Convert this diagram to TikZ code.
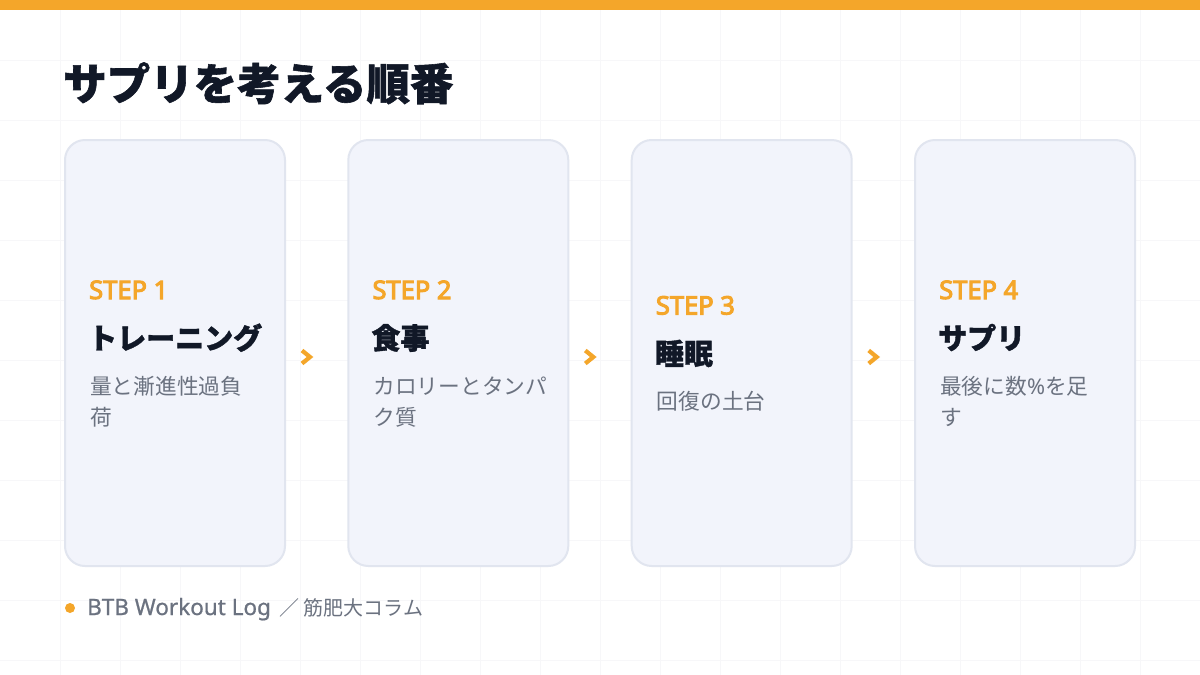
\documentclass[tikz,border=0pt]{standalone}
\usepackage{fontspec}
\setmainfont{Noto Sans CJK JP}
\newfontfamily\heavy{Noto Sans CJK JP}[BoldFeatures={FakeBold=1.3}]
\newfontfamily\latin{Noto Sans}
\newfontfamily\latinb{Noto Sans}[FakeBold=4]
\newfontfamily\latinm{Noto Sans}[FakeBold=0.8]
\definecolor{accent}{HTML}{F4A62A}
\definecolor{cardfill}{HTML}{F2F4FB}
\definecolor{cardline}{HTML}{E1E5EF}
\definecolor{ink}{HTML}{111827}
\definecolor{muted}{HTML}{6B7280}
\definecolor{gridc}{HTML}{F7F7F9}
\begin{document}
\begin{tikzpicture}[x=1pt,y=-1pt,
  card/.style={draw=cardline, fill=cardfill, line width=2pt, rounded corners=20pt,
    minimum width=220pt, minimum height=426pt, inner sep=0pt},
  steptxt/.style={anchor=base west, inner sep=0pt, text=accent, font=\latinb\fontsize{25.5}{25.5}\selectfont},
  ttl/.style={anchor=base west, inner sep=0pt, text=ink, font=\heavy\fontsize{29}{29}\selectfont\bfseries},
  desc/.style={anchor=base west, inner sep=0pt, text=muted, font=\fontsize{21.7}{21.7}\selectfont},
  chevp/.style={draw=accent, line width=4.2pt, line join=miter, line cap=butt},
  foot/.style={anchor=base west, inner sep=0pt, text=muted, font=\fontsize{20}{20}\selectfont}]
\useasboundingbox (0,0) rectangle (1200,675);
\fill[white] (0,0) rectangle (1200,675);
\foreach \x in {60,120,...,1140} \draw[gridc, line width=1pt] (\x,10) -- (\x,675);
\foreach \y in {60,120,...,660} \draw[gridc, line width=1pt] (0,\y) -- (1200,\y);
\fill[accent] (0,0) rectangle (1200,10);
\node[anchor=base west, inner sep=0pt, text=ink, font=\heavy\fontsize{43.5}{43.5}\selectfont\bfseries] (title) at (63,100) {サプリを考える順番};
% cards
\node[card] (c1) at (175,353) {};
\node[card] (c2) at (458.3,353) {};
\node[card] (c3) at (741.7,353) {};
\node[card] (c4) at (1025,353) {};
% card 1
\node[steptxt] (s1) at (89,299) {STEP 1};
\node[ttl] (t1) at (88,349) {トレーニング};
\node[desc] (d1a) at (90,394) {量と漸進性過負};
\node[desc] (d1b) at (90,425) {荷};
% card 2
\node[steptxt] (s2) at (372.3,299) {STEP 2};
\node[ttl] (t2) at (371.3,349) {食事};
\node[desc] (d2a) at (373.3,394) {カロリーとタンパ};
\node[desc] (d2b) at (373.3,425) {ク質};
% card 3
\node[steptxt] (s3) at (655.7,314.5) {STEP 3};
\node[ttl] (t3) at (654.7,364.5) {睡眠};
\node[desc] (d3a) at (656.7,409.5) {回復の土台};
% card 4
\node[steptxt] (s4) at (939,299) {STEP 4};
\node[ttl] (t4) at (938,349) {サプリ};
\node[desc] (d4a) at (940,394) {最後に数{\latin\%}を足};
\node[desc] (d4b) at (940,425) {す};
% chevrons
\coordinate (a1) at (306.5,357);
\coordinate (a2) at (589.8,357);
\coordinate (a3) at (873.2,357);
\foreach \a in {a1,a2,a3}
  \draw[chevp] (\a) ++(-4.5,-6.5) -- ++(8,6.5) -- ++(-8,6.5);
% footer
\node[circle, fill=accent, minimum size=10pt, inner sep=0pt] (dot) at (70,608) {};
\node[foot] (ft) at (87,615) {\mbox{\latinm\fontsize{22.5}{22.5}\selectfont BTB Workout Log}\kern 9pt\mbox{／}\kern 4pt\mbox{筋肥大コラム}};
\end{tikzpicture}
\end{document}
